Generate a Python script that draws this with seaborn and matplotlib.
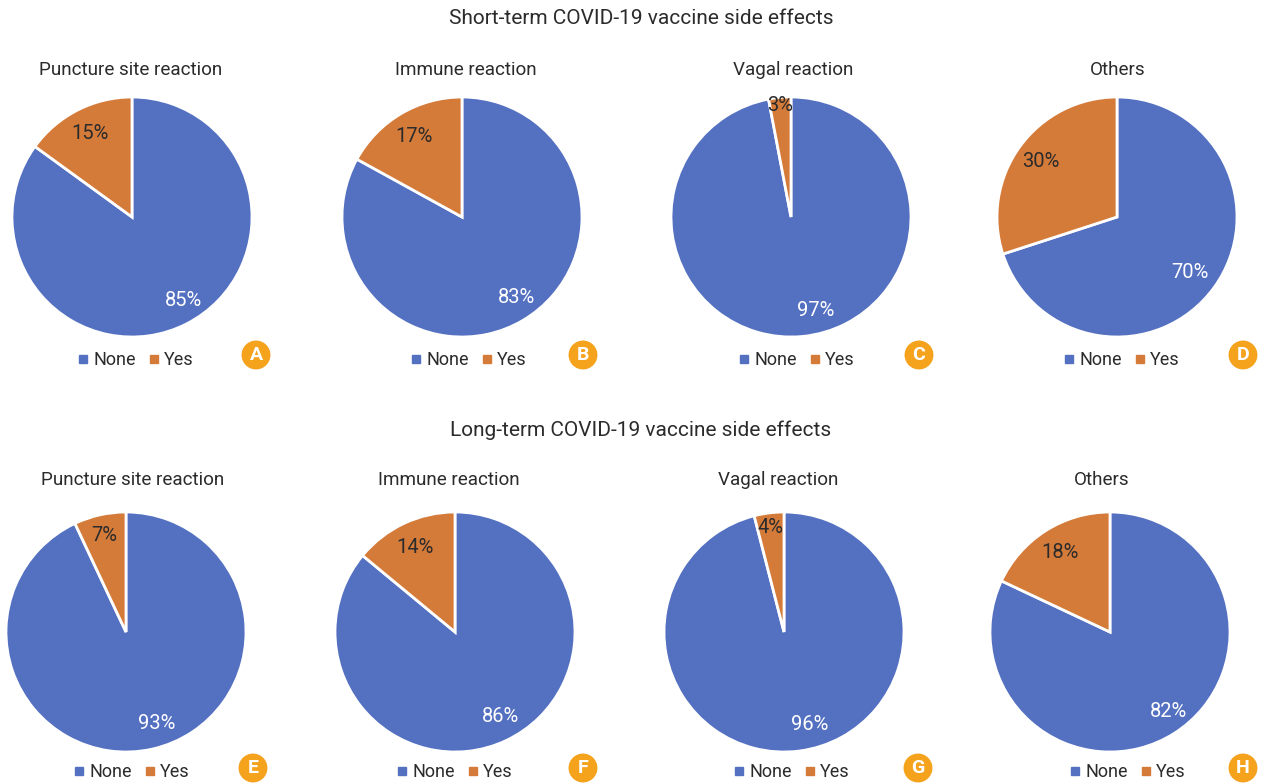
import matplotlib
matplotlib.use("Agg")
import matplotlib.pyplot as plt
import matplotlib.lines as mlines
import seaborn as sns

# data
groups = ["Short-term COVID-19 vaccine side effects",
          "Long-term COVID-19 vaccine side effects"]
reactions = ["Puncture site reaction", "Immune reaction", "Vagal reaction", "Others"]
categories = ["None", "Yes"]
short_none = [85, 83, 97, 70]
short_yes = [15, 17, 3, 30]
long_none = [93, 86, 96, 82]
long_yes = [7, 14, 4, 18]
panel_letters = ["A", "B", "C", "D", "E", "F", "G", "H"]

# layout (pixels, from top-left)
W, H = 1261, 784
R = 120
pie_centers = [[(132, 217), (462, 217), (791, 217), (1117, 217)],
               [(126, 632), (455, 632), (784, 632), (1110, 632)]]
group_title_y = [19, 430]
sub_titles = [[(131, 70), (466, 70), (793, 70), (1118, 70)],
              [(133, 480), (449, 480), (778, 480), (1102, 480)]]
legend_pos = [[(134, 360), (467, 360), (795, 360), (1120, 360)],
              [(130, 772), (453, 772), (790, 772), (1126, 772)]]
badge_pos = [[(256, 355), (583, 355), (919, 355), (1243, 355)],
             [(253, 768), (583, 768), (918, 768), (1243, 768)]]
# small slices have their labels pushed out towards the rim
yes_pct_dist = [[0.78, 0.78, 0.93, 0.78], [0.82, 0.78, 0.88, 0.78]]
# horizontal nudge (px) of the None labels, as in the original
none_dx = [[9, 7, 16, -3], [10, 6, 14, 8]]

BLUE = "#5470C1"
ORANGE = "#D57B3A"
BADGE = "#F5A21C"
TEXT = "#2b2b2b"

sns.set_theme(style="white")
plt.rcParams["font.family"] = ["Roboto", "DejaVu Sans"]

fig = plt.figure(figsize=(W / 100, H / 100), dpi=100)


def px(x, y):
    return x / W, 1 - y / H


rows = [(short_none, short_yes), (long_none, long_yes)]
k = 0
for r, (none_vals, yes_vals) in enumerate(rows):
    fig.text(*px(641, group_title_y[r]), groups[r], ha="center", va="center",
             fontsize=15, color=TEXT)
    for c in range(4):
        cx, cy = pie_centers[r][c]
        ax = fig.add_axes([(cx - R) / W, 1 - (cy + R) / H, 2 * R / W, 2 * R / H])
        wedges, texts, autotexts = ax.pie(
            [none_vals[c], yes_vals[c]],
            colors=[BLUE, ORANGE],
            startangle=90,
            counterclock=False,
            autopct="%.0f%%",
            pctdistance=0.78,
            wedgeprops=dict(edgecolor="white", linewidth=2),
        )
        ax.set_xlim(-1, 1)
        ax.set_ylim(-1, 1)
        ax.set_aspect("equal")
        for w in wedges:
            w.set_clip_on(False)
        autotexts[0].set_color("white")
        autotexts[1].set_color(TEXT)
        for t in autotexts:
            t.set_fontsize(14.5)
        x, y = autotexts[0].get_position()
        autotexts[0].set_position((x + none_dx[r][c] / R, y))
        # move the Yes label radially
        x, y = autotexts[1].get_position()
        d = (x ** 2 + y ** 2) ** 0.5
        f = yes_pct_dist[r][c] / d
        autotexts[1].set_position((x * f, y * f))

        fig.text(*px(*sub_titles[r][c]), reactions[c], ha="center", va="center",
                 fontsize=13.6, color=TEXT)

        handles = [mlines.Line2D([], [], color=col, marker="s", linestyle="none",
                                 markersize=6) for col in (BLUE, ORANGE)]
        fig.legend(handles, categories, loc="center", ncol=2, frameon=False,
                   bbox_to_anchor=px(*legend_pos[r][c]), fontsize=13,
                   handletextpad=0.05, columnspacing=0.5, handlelength=1.0,
                   labelcolor=TEXT)

        bx, by = badge_pos[r][c]
        fig.text(*px(bx, by), panel_letters[k], ha="center", va="center",
                 fontsize=14, fontweight="bold", color="white",
                 bbox=dict(boxstyle="circle,pad=0.28", facecolor=BADGE,
                           edgecolor="none"))
        k += 1

fig.savefig("out.png", dpi=100, facecolor="white")
